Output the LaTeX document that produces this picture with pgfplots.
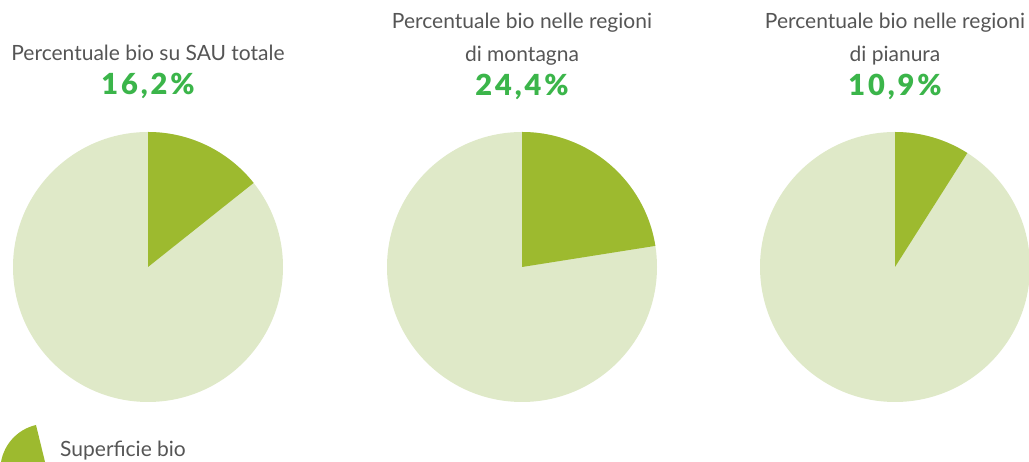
\documentclass[border=0pt]{standalone}
\usepackage{pgfplots}
\pgfplotsset{compat=1.18}
\usepackage{fontspec}
\setmainfont{Lato}
\newfontfamily\pctfont[LetterSpace=10]{Lato Black}
\definecolor{bioDark}{HTML}{9DBA2F}
\definecolor{bioLight}{HTML}{DFE9C8}
\definecolor{pctGreen}{HTML}{3BB54A}
\definecolor{txtGray}{HTML}{555555}
% share of "Superficie bio" as drawn in each pie (percent)
\def\pA{14.3}
\def\pB{22.5}
\def\pC{9.0}
\pgfplotsset{piestyle/.style={
  hide axis, width=270pt, height=270pt, scale only axis,
  xmin=-1, xmax=1, ymin=-1, ymax=1, anchor=center, clip=false}}
\begin{document}
\begin{tikzpicture}[x=1pt,y=1pt]
\useasboundingbox (0,0) rectangle (1029,462);
% pie 1
\begin{axis}[piestyle, at={(148pt,195pt)}]
\fill[bioLight] (axis cs:0,0) circle[radius=1];
\fill[bioDark] (axis cs:0,0) -- (axis cs:0,1) arc[start angle=90, delta angle={-3.6*\pA}, radius=1] -- cycle;
\end{axis}
% pie 2
\begin{axis}[piestyle, at={(522pt,195pt)}]
\fill[bioLight] (axis cs:0,0) circle[radius=1];
\fill[bioDark] (axis cs:0,0) -- (axis cs:0,1) arc[start angle=90, delta angle={-3.6*\pB}, radius=1] -- cycle;
\end{axis}
% pie 3
\begin{axis}[piestyle, at={(895pt,195pt)}]
\fill[bioLight] (axis cs:0,0) circle[radius=1];
\fill[bioDark] (axis cs:0,0) -- (axis cs:0,1) arc[start angle=90, delta angle={-3.6*\pC}, radius=1] -- cycle;
\end{axis}
% titles
\tikzset{ttl/.style={text=txtGray, font=\fontsize{21}{25}\selectfont, inner sep=0pt, anchor=base},
         pct/.style={text=pctGreen, font=\fontsize{29}{32}\selectfont\pctfont, inner sep=0pt, anchor=base}}
\node[ttl] at (148,401) {Percentuale bio su SAU totale};
\node[pct] at (148,367) {16,2\%};
\node[ttl] at (522,433) {Percentuale bio nelle regioni};
\node[ttl] at (522,400) {di montagna};
\node[pct] at (522,366) {24,4\%};
\node[ttl] at (895,433) {Percentuale bio nelle regioni};
\node[ttl] at (895,400) {di pianura};
\node[pct] at (895,366) {10,9\%};
% legend
\fill[bioDark] (47,-8) -- (36,37) arc[start angle=103, end angle=175, radius=46] -- cycle;
\node[ttl, anchor=base west] at (60,5) {Superficie bio};
\end{tikzpicture}
\end{document}
